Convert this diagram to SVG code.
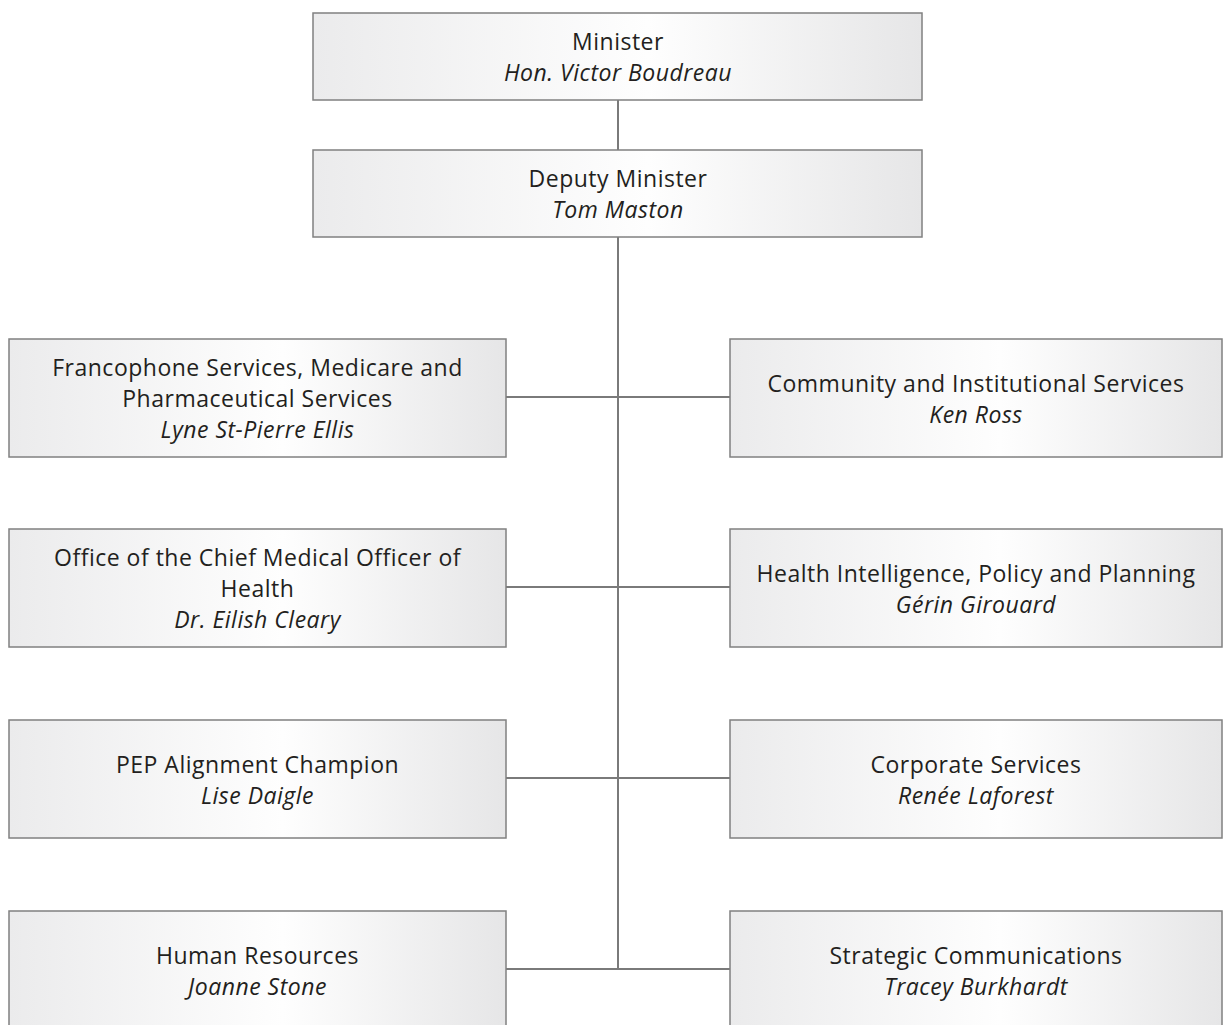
<svg xmlns="http://www.w3.org/2000/svg" width="1228" height="1025" viewBox="0 0 1228 1025">
<defs>
<linearGradient id="g" x1="0" y1="0" x2="1" y2="0">
<stop offset="0" stop-color="#ebebec"/>
<stop offset="0.55" stop-color="#fefefe"/>
<stop offset="1" stop-color="#e6e6e7"/>
</linearGradient>
<style>
.box{fill:url(#g);stroke:#808080;stroke-width:1.5}
.t{font-family:"Open Sans","Liberation Sans",sans-serif;font-size:23px;letter-spacing:0.5px;fill:#231f20;text-anchor:middle}
.i{font-style:italic}
.c{stroke:#7a7a7a;stroke-width:2;fill:none}
</style>
</defs>
<rect width="1228" height="1025" fill="#ffffff"/>
<g id="connectors">
<line class="c" x1="618" y1="100" x2="618" y2="150"/>
<line class="c" x1="618" y1="237" x2="618" y2="970"/>
<line class="c" x1="506" y1="397" x2="730" y2="397"/>
<line class="c" x1="506" y1="587" x2="730" y2="587"/>
<line class="c" x1="506" y1="778" x2="730" y2="778"/>
<line class="c" x1="506" y1="969" x2="730" y2="969"/>
</g>
<g id="minister">
<rect class="box" x="313" y="13" width="609" height="87"/>
<text class="t" x="618" y="50">Minister</text>
<text class="t i" x="618" y="81">Hon. Victor Boudreau</text>
</g>
<g id="deputy-minister">
<rect class="box" x="313" y="150" width="609" height="87"/>
<text class="t" x="618" y="187">Deputy Minister</text>
<text class="t i" x="618" y="218">Tom Maston</text>
</g>
<g id="francophone">
<rect class="box" x="9" y="339" width="497" height="118"/>
<text class="t" x="257.5" y="376">Francophone Services, Medicare and</text>
<text class="t" x="257.5" y="407">Pharmaceutical Services</text>
<text class="t i" x="257.5" y="438">Lyne St-Pierre Ellis</text>
</g>
<g id="community">
<rect class="box" x="730" y="339" width="492" height="118"/>
<text class="t" x="976" y="392">Community and Institutional Services</text>
<text class="t i" x="976" y="423">Ken Ross</text>
</g>
<g id="cmoh">
<rect class="box" x="9" y="529" width="497" height="118"/>
<text class="t" x="257.5" y="566">Office of the Chief Medical Officer of</text>
<text class="t" x="257.5" y="597">Health</text>
<text class="t i" x="257.5" y="628">Dr. Eilish Cleary</text>
</g>
<g id="health-intelligence">
<rect class="box" x="730" y="529" width="492" height="118"/>
<text class="t" x="976" y="582">Health Intelligence, Policy and Planning</text>
<text class="t i" x="976" y="613">Gérin Girouard</text>
</g>
<g id="pep">
<rect class="box" x="9" y="720" width="497" height="118"/>
<text class="t" x="257.5" y="773">PEP Alignment Champion</text>
<text class="t i" x="257.5" y="804">Lise Daigle</text>
</g>
<g id="corporate">
<rect class="box" x="730" y="720" width="492" height="118"/>
<text class="t" x="976" y="773">Corporate Services</text>
<text class="t i" x="976" y="804">Renée Laforest</text>
</g>
<g id="hr">
<rect class="box" x="9" y="911" width="497" height="118"/>
<text class="t" x="257.5" y="964">Human Resources</text>
<text class="t i" x="257.5" y="995">Joanne Stone</text>
</g>
<g id="strategic-communications">
<rect class="box" x="730" y="911" width="492" height="118"/>
<text class="t" x="976" y="964">Strategic Communications</text>
<text class="t i" x="976" y="995">Tracey Burkhardt</text>
</g>
</svg>
